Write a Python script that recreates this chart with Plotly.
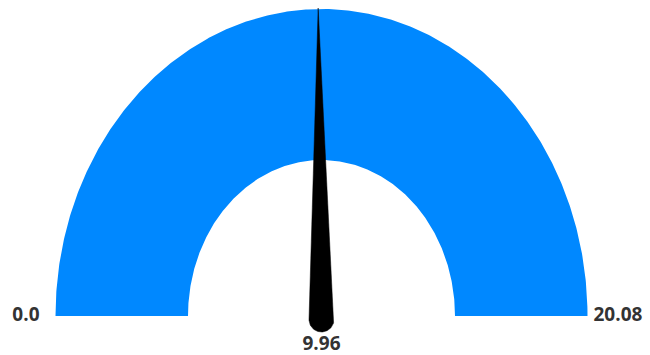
import numpy as np
import plotly.graph_objects as go

# Gauge data
min_value = 0.0
max_value = 20.08
value = 9.96
min_label = "0.0"
max_label = "20.08"
value_label = "9.96"

# Gauge geometry (canvas pixel units)
W, H = 650, 355
cx, cy = 321.5, 316.0
rx_out, ry_out = 266.0, 307.0
rx_in, ry_in = 133.5, 156.0
pivot_y = 319.5
hub_r = 12.5
blue = "rgb(0,136,255)"
text_color = "#333333"


def ellipse_point(theta, rx, ry):
    return cx + rx * np.cos(theta), cy - ry * np.sin(theta)


# Arc band: outer edge from left to right, inner edge back
t = np.linspace(np.pi, 0, 400)
ox, oy = ellipse_point(t, rx_out, ry_out)
ix, iy = ellipse_point(t[::-1], rx_in, ry_in)
arc_x = np.concatenate([ox, ix, ox[:1]])
arc_y = np.concatenate([oy, iy, oy[:1]])

# Needle: tapered wedge from a rounded hub to the outer edge
frac = (value - min_value) / (max_value - min_value)
ang = np.pi * (1 - frac)
tip_x, tip_y = ellipse_point(ang, rx_out, ry_out)
tip_y -= 1
dx, dy = tip_x - cx, tip_y - pivot_y
length = np.hypot(dx, dy)
ux, uy = dx / length, dy / length
nx, ny = -uy, ux
# half circle at the hub on the side away from the tip
phi0 = np.arctan2(ny, nx)
phis = np.linspace(phi0, phi0 + np.pi, 60)
hub_x = cx + hub_r * np.cos(phis)
hub_y = pivot_y + hub_r * np.sin(phis)
needle_x = np.concatenate([[tip_x], hub_x, [tip_x]])
needle_y = np.concatenate([[tip_y], hub_y, [tip_y]])

fig = go.Figure()
fig.add_trace(go.Scatter(x=arc_x, y=arc_y, mode="lines", fill="toself",
                         fillcolor=blue, line=dict(color=blue, width=0),
                         hoverinfo="skip"))
fig.add_trace(go.Scatter(x=needle_x, y=needle_y, mode="lines", fill="toself",
                         fillcolor="black", line=dict(color="black", width=0.5),
                         hoverinfo="skip"))

# Min / max / value labels
font = dict(family="Open Sans", size=19, color=text_color, weight="bold")
fig.add_trace(go.Scatter(
    x=[cx - rx_out - 16, cx + rx_out + 6, cx],
    y=[cy, cy, 345],
    mode="text",
    text=[min_label, max_label, value_label],
    textposition=["middle left", "middle right", "middle center"],
    textfont=font,
    cliponaxis=False,
    hoverinfo="skip",
))

fig.update_layout(
    width=W, height=H, margin=dict(l=0, r=0, t=0, b=0),
    paper_bgcolor="white", plot_bgcolor="white", showlegend=False,
    xaxis=dict(range=[0, W], visible=False, fixedrange=True),
    yaxis=dict(range=[H, 0], visible=False, fixedrange=True),
)
fig.write_html("out.html")
